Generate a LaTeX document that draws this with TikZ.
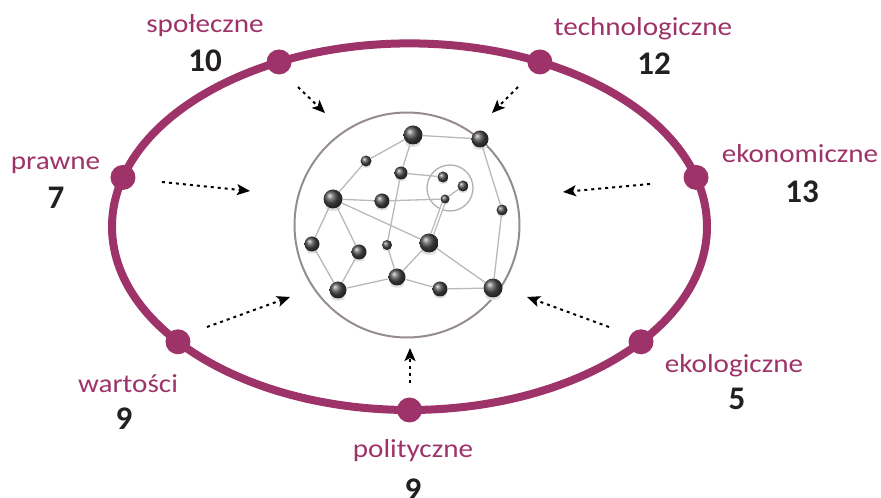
\documentclass[tikz,border=0pt]{standalone}
\usepackage{fontspec}
\setmainfont{Carlito}[FakeStretch=1.12]
\newfontfamily\numfont{Carlito}
\usetikzlibrary{arrows.meta,calc}
\definecolor{plum}{RGB}{158,51,105}
\definecolor{numgray}{RGB}{35,31,32}
\definecolor{netgray}{RGB}{150,140,140}

\begin{document}
\begin{tikzpicture}[x=1pt,y=1pt,
        joint/.style={circle, fill=plum, minimum size=25pt, inner sep=0pt},
        factor/.style={text=plum, font=\fontsize{26}{30}\selectfont, anchor=base, inner sep=0pt},
        count/.style={text=numgray, font=\numfont\bfseries\fontsize{33}{38}\selectfont, anchor=base, inner sep=0pt},
        infl/.style={line width=2pt, dash pattern=on 3pt off 4pt, -{Stealth[length=13pt,width=11pt,inset=3pt]}},
        sphere/.style={circle, inner sep=0pt, shade, ball color=black!70},
        link/.style={gray!55, line width=1.3pt}]
        \useasboundingbox (0,0) rectangle (881,498);

        % Outer ellipse
        \coordinate (c) at (409.5,271.3);
        \draw[plum, line width=8pt] (c) ellipse (297.5 and 183.3);

        % Markers on the ellipse
        \foreach \ang/\name in {116/spol, 64/tech, 164.4/praw, 15.6/ekon, 218.9/wart, 321.1/ekol, 270/poli}
            \node[joint] (\name) at ($(c)+(\ang:297.5 and 183.3)$) {};

        % Factor names and counts
        \node[factor] (spol-t) at (205,465) {społeczne};
        \node[count] (spol-n) at (205,426) {10};
        \node[factor] (tech-t) at (643,462) {technologiczne};
        \node[count] (tech-n) at (654,423) {12};
        \node[factor] (praw-t) at (55.5,328) {prawne};
        \node[count] (praw-n) at (56,289) {7};
        \node[factor] (ekon-t) at (800,335) {ekonomiczne};
        \node[count] (ekon-n) at (802,295) {13};
        \node[factor] (wart-t) at (128,105) {wartości};
        \node[count] (wart-n) at (124,68) {9};
        \node[factor] (ekol-t) at (734,125) {ekologiczne};
        \node[count] (ekol-n) at (737,88) {5};
        \node[factor] (poli-t) at (413,40) {polityczne};
        \node[count] (poli-n) at (413,-3) {9};

        % Network in the middle
        \draw[netgray, line width=2pt] (407,273) circle (112.5);
        \draw[netgray!70, line width=1.3pt] (450,310) circle (23);
        \foreach \name/\x/\y/\d in {s1/413/363/19, s2/480/359/17, s3/366/337/11, s4/401/325/13,
                s5/443/321/11, s6/463/312/11, s7/445/299/9, s8/333/299/19, s9/382/297/15,
                s10/502/288/11, s11/312/254/15, s12/359/246/15, s13/387/253/10, s14/429/255/19,
                s15/397/221/17, s16/338/208/17, s17/440/209/15, s18/493/210/19} {
            \fill[black!12] (\x,\y-0.45*\d) ellipse ({0.4*\d} and {0.18*\d});
            \node[sphere, minimum size=\d pt] (\name) at (\x,\y) {};
        }
        \foreach \a/\b in {s1/s2, s3/s1, s8/s3, s1/s4, s4/s5, s4/s13, s13/s15, s8/s9, s9/s7,
                s8/s14, s8/s11, s8/s12, s11/s16, s12/s16, s16/s15, s15/s14, s15/s17,
                s17/s18, s14/s18, s2/s10, s10/s18, s6/s7}
            \draw[link] (\a) -- (\b);
        \draw[link, double=white, double distance=1.5pt] (s14) -- (s7);

        % Influence arrows
        \foreach \name/\xa/\ya/\xb/\yb in {spol/298/411/325/385, tech/518/411/492/385,
                praw/162/316/250/307, ekon/650/314/563/306, wart/207/171/290/201,
                ekol/609/171/527/201, poli/410/115/410/150} {
            \coordinate (\name-from) at (\xa,\ya);
            \coordinate (\name-to) at (\xb,\yb);
            \draw[infl] (\name-from) -- (\name-to);
        }
    \end{tikzpicture}
\end{document}
